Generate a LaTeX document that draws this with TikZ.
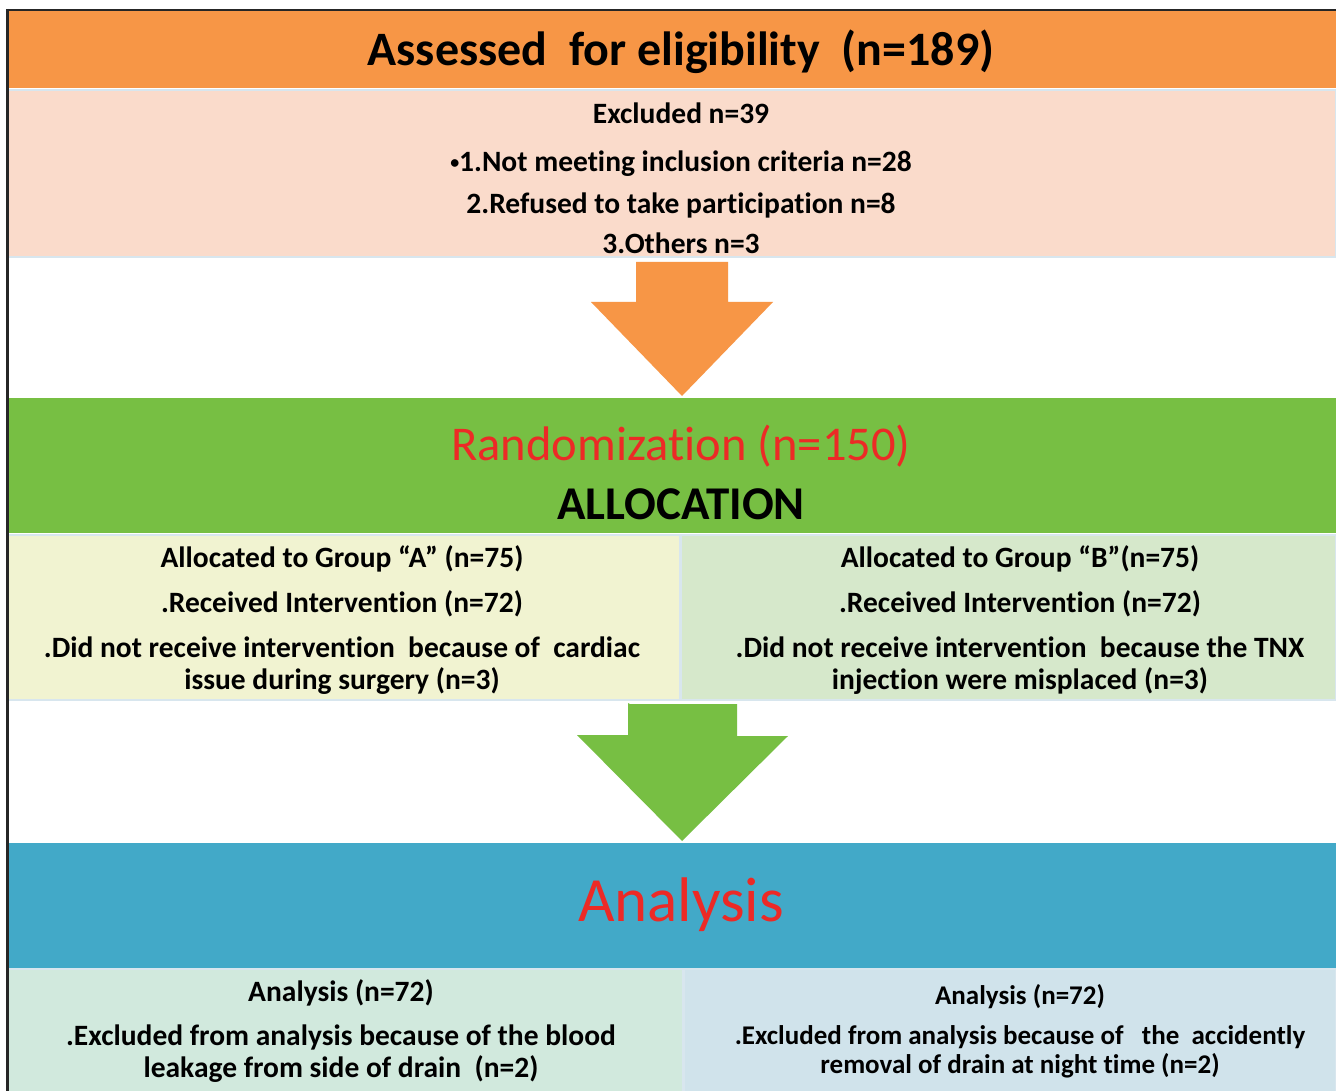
\documentclass[tikz,border=0pt]{standalone}
\usepackage{fontspec}
\setmainfont{Carlito}[Ligatures = NoCommon]
\usetikzlibrary{calc}
\usetikzlibrary{positioning}
\definecolor{morange}{HTML}{F79646}
\definecolor{mpink}{HTML}{FADBCB}
\definecolor{mgreen}{HTML}{77BF43}
\definecolor{myellow}{HTML}{F1F3D1}
\definecolor{mlgreen}{HTML}{D6E8CB}
\definecolor{mblue}{HTML}{42A9C8}
\definecolor{mmint}{HTML}{D1E9DD}
\definecolor{mlblue}{HTML}{D0E3EB}
\definecolor{mred}{HTML}{EC2A26}
\definecolor{medge}{HTML}{D8E6EE}
\newcommand\txtfont{\fontsize{29.5}{32}\selectfont\bfseries}
\newcommand\smallbullet{\raisebox{3pt}{\fontsize{18}{18}\selectfont •}}
\tikzset{band/.style = {inner sep = 0, outer sep = 0, anchor = north west,
                        minimum width = 1328, minimum height = #1}}
\tikzset{half/.style = {inner sep = 0, outer sep = 0, anchor = north west,
                        draw = medge, line width = 2.5, minimum height = #1}}
\tikzset{txt/.style = {align = center, inner sep = 0, font = \txtfont}}

\begin{document}
\begin{tikzpicture}[x = 1pt, y = -1pt]
    \useasboundingbox [fill = white] (0, 0) rectangle (1336, 1091);

    \node [band = 77, fill = morange] (assess) at (8, 11) {};
    \node [band = 167, fill = mpink, draw = medge, line width = 2.5] (excl) at (8, 90) {};
    \node [band = 135, fill = mgreen] (rand) at (8, 398) {};
    \node [half = 165, fill = myellow, minimum width = 672] (groupa) at (8, 535) {};
    \node [half = 165, fill = mlgreen, minimum width = 655] (groupb) at (681, 535) {};
    \node [band = 125, fill = mblue] (anl) at (8, 843) {};
    \node [half = 124, fill = mmint, minimum width = 675] (anla) at (8, 969) {};
    \node [half = 124, fill = mlblue, minimum width = 652] (anlb) at (684, 969) {};

    \node [font = \fontsize{48}{58}\selectfont\bfseries] (assesstxt) at (681, 52) {Assessed\ \ for eligibility\ \ (n=189)};
    \node [txt] (excltxt) at (681, 178) {Excluded n=39\\[16pt]
        \smallbullet1.Not meeting inclusion criteria n=28\\[10pt]
        2.Refused to take participation n=8\\[8pt]
        3.Others n=3};

    \coordinate (tip1) at ($(rand.north) + (10, -2)$);
    \fill [morange] ($(excl.south) + (-36, 5)$) -- ++(92, 0) -- ++(0, 40) -- ++(45, 0)
        -- (tip1) -- ++(-91, -94) -- ++(45, 0) -- ++(0, -40) -- cycle;

    \node [font = \fontsize{48.5}{58}\selectfont, text = mred] (randtxt) at (681, 446) {Randomization (n=150)};
    \node [font = \fontsize{47}{56}\selectfont\bfseries] (alloctxt) at (681, 504) {ALLOCATION};

    \node [txt] (groupatxt) at (342, 620) {Allocated to Group “A” (n=75)\\[13pt]
        .Received Intervention (n=72)\\[13pt]
        .Did not receive intervention\ \ because of\ \ cardiac\\
        issue during surgery (n=3)};
    \node [txt] (groupbtxt) at (1020, 620) {Allocated to Group “B”(n=75)\\[13pt]
        .Received Intervention (n=72)\\[13pt]
        .Did not receive intervention\ \ because the TNX\\
        injection were misplaced (n=3)};

    \coordinate (tip2) at ($(anl.north) + (10, -2)$);
    \fill [mgreen] ($(groupa.south east) + (-50, 4)$) -- ++(107, 0) -- ++(0, 32) -- ++(51, 0)
        -- (tip2) -- ++(-105, -106) -- ++(51, 0) -- ++(0, -32) -- cycle;

    \node [font = \fontsize{63}{75}\selectfont, text = mred] (anltxt) at (681, 905) {Analysis};

    \node [txt] (anlatxt) at (341, 1031) {Analysis (n=72)\\[12pt]
        .Excluded from analysis because of the blood\\
        leakage from side of drain\ \ (n=2)};
    \node [txt, font = \fontsize{27}{29}\selectfont\bfseries] (anlbtxt) at (1020, 1031) {Analysis (n=72)\\[11pt]
        .Excluded from analysis because of\ \ \ the\ \ accidently\\
        removal of drain at night time (n=2)};

    \draw [line width = 2, black!85] (6, 10) -- (1336, 10);
    \draw [line width = 3, black!85] (7, 9) -- (7, 1091);
\end{tikzpicture}
\end{document}
